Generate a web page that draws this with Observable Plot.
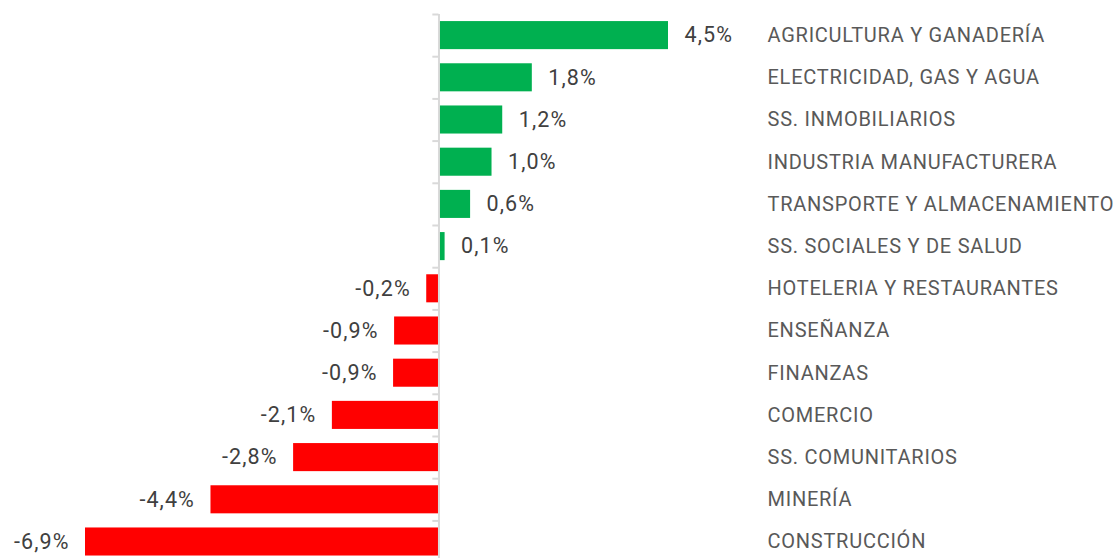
<!DOCTYPE html>
<html>
<head>
<meta charset="utf-8">
<script src="https://cdn.jsdelivr.net/npm/d3@7"></script>
<script src="https://cdn.jsdelivr.net/npm/@observablehq/plot@0.6"></script>
<style>
  html, body { margin: 0; padding: 0; background: #fff; }
  #chart svg { display: block; }
</style>
</head>
<body>
<div id="chart"></div>
<script>
const sectors = [
  "AGRICULTURA Y GANADERÍA",
  "ELECTRICIDAD, GAS Y AGUA",
  "SS. INMOBILIARIOS",
  "INDUSTRIA MANUFACTURERA",
  "TRANSPORTE Y ALMACENAMIENTO",
  "SS. SOCIALES Y DE SALUD",
  "HOTELERIA Y RESTAURANTES",
  "ENSEÑANZA",
  "FINANZAS",
  "COMERCIO",
  "SS. COMUNITARIOS",
  "MINERÍA",
  "CONSTRUCCIÓN"
];
// bar lengths (unrounded)
const values = [4.5, 1.83, 1.25, 1.04, 0.62, 0.12, -0.24, -0.87, -0.89, -2.09, -2.85, -4.47, -6.93];
// printed value labels
const valueLabels = ["4,5%", "1,8%", "1,2%", "1,0%", "0,6%", "0,1%", "-0,2%", "-0,9%", "-0,9%", "-2,1%", "-2,8%", "-4,4%", "-6,9%"];

const data = sectors.map((s, i) => ({sector: s, value: values[i], label: valueLabels[i]}));
const GREEN = "#00b050", RED = "#ff0000", GRID = "#d9d9d9";

const W = 1116, H = 558;
const plotTop = 14;
const step = 42.2;
const plotBottom = plotTop + step * sectors.length;

const chart = Plot.plot({
  width: W,
  height: H,
  marginTop: plotTop,
  marginBottom: 0,
  marginLeft: 85,
  marginRight: 448,
  style: {fontFamily: "Roboto, 'Noto Sans', sans-serif", fontSize: "20px", letterSpacing: "0.75px", color: "#595959", background: "#fff"},
  x: {domain: [d3.min(values), d3.max(values)], axis: null},
  y: {domain: sectors, range: [plotTop, plotBottom], paddingInner: 0.335, paddingOuter: 0.1675, align: 0.5, round: false,
      axis: "right", tickSize: 0, tickPadding: 99, label: null},
  marks: [
    Plot.barX(data, {y: "sector", x1: 0, x2: "value", fill: d => d.value >= 0 ? GREEN : RED}),
    Plot.ruleX([0], {stroke: GRID, strokeWidth: 2}),
    Plot.ruleY(sectors, {y: d => d, x1: -0.12, x2: 0, dy: -step / 2, stroke: GRID, strokeWidth: 2}),
    Plot.text(data.filter(d => d.value >= 0), {y: "sector", x: "value", text: "label", textAnchor: "start", dx: 16, fontSize: 21.5, fill: "#404040", className: "vlab"}),
    Plot.text(data.filter(d => d.value < 0), {y: "sector", x: "value", text: "label", textAnchor: "end", dx: -16, fontSize: 21.5, fill: "#404040", className: "vlab"})
  ]
});
d3.select(chart).selectAll(".vlab text").style("letter-spacing", "1.1px");
document.getElementById("chart").appendChild(chart);
</script>
</body>
</html>
